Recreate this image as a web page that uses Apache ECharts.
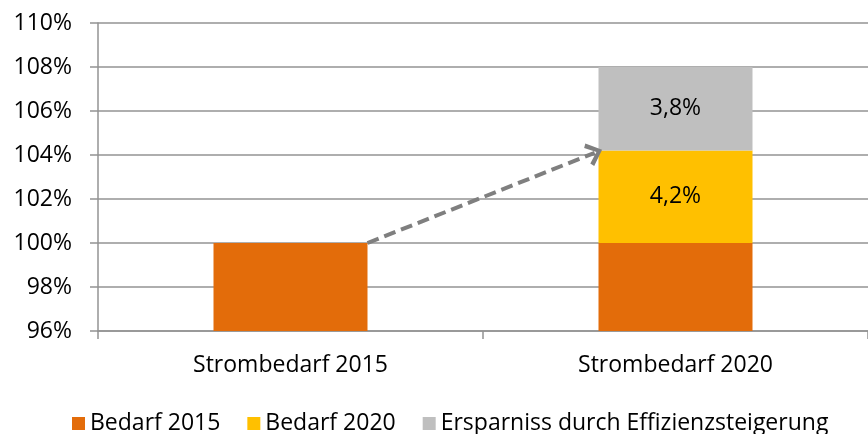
<!DOCTYPE html>
<html>
<head>
<meta charset="utf-8">
<script src="https://cdn.jsdelivr.net/npm/echarts@6/dist/echarts.min.js"></script>
<style>
  html, body { margin: 0; padding: 0; background: #fff; }
  #chart { width: 868px; height: 434px; }
</style>
</head>
<body>
<div id="chart"></div>
<script>
const categories = ['Strombedarf 2015', 'Strombedarf 2020'];
const bedarf2015 = [100, 100];
const bedarf2020 = ['-', 4.2];
const ersparnis = ['-', 3.8];
const yTicks = { min: 96, max: 110, interval: 2 };

const FONT = "'Open Sans', sans-serif";
const FONT_SIZE = 23;
const BAR_FRAC = 0.4; // bar width as share of category
const GRID_COLOR = '#939393';

const chart = echarts.init(document.getElementById('chart'));

// arrow from top-right of 2015 bar to left edge of 2020 bar at new demand level
const arrowStart = [0 + BAR_FRAC / 2, bedarf2015[0]];
const arrowEnd = [1 - BAR_FRAC / 2 - 0.01, bedarf2015[1] + bedarf2020[1] - 0.1];

const pctLabel = {
  show: true,
  position: 'inside',
  color: '#000',
  fontFamily: FONT,
  fontSize: FONT_SIZE,
  formatter: p => String(p.value).replace('.', ',') + '%'
};

chart.setOption({
  animation: false,
  textStyle: { fontFamily: FONT },
  grid: { left: 98, right: 0, top: 23, bottom: 103 },
  legend: {
    left: 67,
    top: 407,
    icon: 'rect',
    itemWidth: 13,
    itemHeight: 13,
    itemGap: 27,
    textStyle: { fontFamily: FONT, fontSize: FONT_SIZE, color: '#000' },
    data: ['Bedarf 2015', 'Bedarf 2020', 'Ersparniss durch Effizienzsteigerung']
  },
  xAxis: [{
    type: 'category',
    data: categories,
    axisLine: { lineStyle: { color: GRID_COLOR, width: 1.5 } },
    axisTick: { show: true, length: 8, lineStyle: { color: GRID_COLOR, width: 1.5 } },
    axisLabel: { color: '#000', fontFamily: FONT, fontSize: FONT_SIZE, margin: 23 }
  }, {
    type: 'value',
    min: -0.5,
    max: 1.5,
    show: false
  }],
  yAxis: {
    type: 'value',
    min: yTicks.min,
    max: yTicks.max,
    interval: yTicks.interval,
    axisLine: { show: true, onZero: false, lineStyle: { color: GRID_COLOR, width: 1.5 } },
    axisTick: { show: true, length: 8, lineStyle: { color: GRID_COLOR, width: 1.5 } },
    splitLine: { lineStyle: { color: GRID_COLOR, width: 1.5 } },
    axisLabel: { color: '#000', fontFamily: FONT, fontSize: FONT_SIZE, margin: 26, formatter: '{value}%' }
  },
  series: [
    {
      name: 'Bedarf 2015',
      type: 'bar',
      stack: 'total',
      barWidth: (BAR_FRAC * 100) + '%',
      itemStyle: { color: '#e36c0a' },
      data: bedarf2015
    },
    {
      name: 'Bedarf 2020',
      type: 'bar',
      stack: 'total',
      itemStyle: { color: '#ffc000' },
      label: pctLabel,
      data: bedarf2020
    },
    {
      name: 'Ersparniss durch Effizienzsteigerung',
      type: 'bar',
      stack: 'total',
      itemStyle: { color: '#bfbfbf' },
      label: pctLabel,
      data: ersparnis
    },
    {
      name: 'arrow',
      type: 'line',
      xAxisIndex: 1,
      data: [],
      markLine: {
        silent: true,
        symbol: ['none', 'path://M0,12 L10,0 L20,12 L17,14.5 L10,5.5 L3,14.5 Z'],
        symbolSize: [24, 16],
        label: { show: false },
        lineStyle: { color: '#7f7f7f', width: 4, type: [12, 6] },
        data: [[{ coord: arrowStart }, { coord: arrowEnd }]]
      }
    }
  ]
});
</script>
</body>
</html>
